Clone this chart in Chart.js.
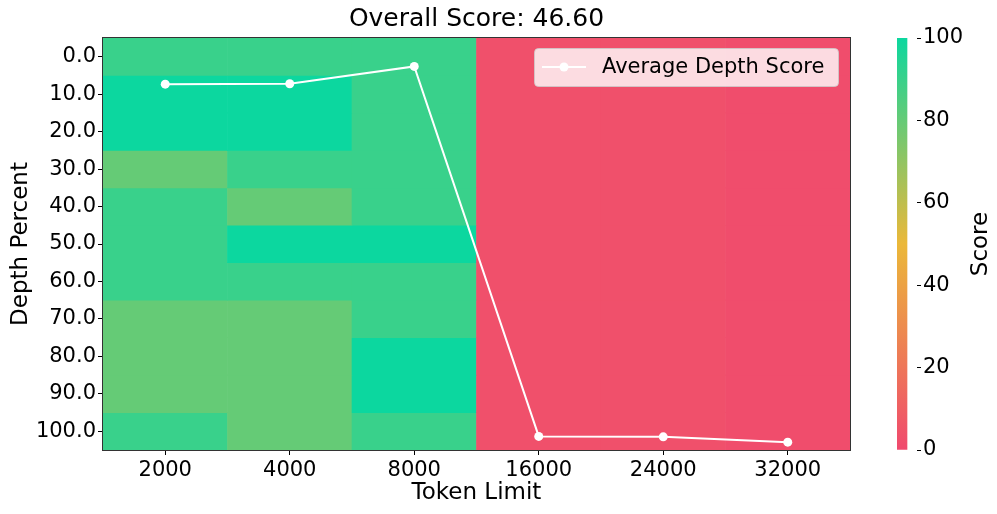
<!DOCTYPE html>
<html><head><meta charset="utf-8">
<script src="https://cdn.jsdelivr.net/npm/chart.js@4.4.1/dist/chart.umd.min.js"></script>
<style>
html,body{margin:0;padding:0;background:#fff;}
#wrap{position:relative;width:997px;height:514px;overflow:hidden;}
#main{position:absolute;left:0;top:0;}
#cbar{position:absolute;left:880px;top:0;}
</style></head><body>
<div id="wrap">
<canvas id="main" width="997" height="514"></canvas>
<canvas id="cbar" width="117" height="514"></canvas>
</div>
<script>
// ---------------- data ----------------
const tokenLimits = ['2000', '4000', '8000', '16000', '24000', '32000'];
const depthPercents = [0, 10, 20, 30, 40, 50, 60, 70, 80, 90, 100];
// score of each cell, one array per token limit, rows ordered by depth percent
const score2000  = [90, 100, 100, 80, 90, 90, 90, 80, 80, 80, 90];
const score4000  = [90, 100, 100, 90, 80, 100, 90, 80, 80, 80, 80];
const score8000  = [90, 90, 90, 90, 90, 100, 90, 90, 100, 100, 90];
const score16000 = [3.3, 3.3, 3.3, 3.3, 3.3, 3.3, 3.3, 3.3, 3.3, 3.3, 3.3];
const score24000 = [3.2, 3.2, 3.2, 3.2, 3.2, 3.2, 3.2, 3.2, 3.2, 3.2, 3.2];
const score32000 = [1.9, 1.9, 1.9, 1.9, 1.9, 1.9, 1.9, 1.9, 1.9, 1.9, 1.9];
const averageDepthScore = [88.8, 88.9, 93.1, 3.3, 3.2, 1.9];
const overallScore = 46.60;
const colorStops = ['#F0496E', '#EBB839', '#0CD79F'];
const scoreTicks = [0, 20, 40, 60, 80, 100];

const scoreColumns = [score2000, score4000, score8000, score16000, score24000, score32000];
const FONT = '"DejaVu Sans", "Liberation Sans", sans-serif';

function hexToRgb(h){ const n=parseInt(h.slice(1),16); return [(n>>16)&255,(n>>8)&255,n&255]; }
function scoreColor(s){
  const t = Math.max(0, Math.min(1, s/100)) * (colorStops.length-1);
  const i = Math.min(colorStops.length-2, Math.floor(t));
  const f = t - i;
  const a = hexToRgb(colorStops[i]), b = hexToRgb(colorStops[i+1]);
  const c = a.map((v,k)=>Math.round(v + (b[k]-v)*f));
  return `rgb(${c[0]},${c[1]},${c[2]})`;
}
const step = depthPercents[1]-depthPercents[0];
const half = step/2;

// ---------------- heatmap datasets ----------------
const cellDatasets = depthPercents.map((d, r) => ({
  type: 'bar',
  label: 'depth ' + d,
  data: tokenLimits.map(() => [d - half, d + half]),
  backgroundColor: scoreColumns.map(col => scoreColor(col[r])),
  borderWidth: 0,
  barPercentage: 1,
  categoryPercentage: 1,
  grouped: false,
  xAxisID: 'x',
  yAxisID: 'y',
  order: 2
}));

const lineDataset = {
  type: 'line',
  label: 'Average Depth Score',
  data: averageDepthScore,
  borderColor: '#ffffff',
  backgroundColor: '#ffffff',
  borderWidth: 2,
  pointRadius: 4.5,
  pointBorderWidth: 0,
  pointBackgroundColor: '#ffffff',
  xAxisID: 'x',
  yAxisID: 'yScore',
  order: 0
};

const frameAndLegend = {
  id: 'frameAndLegend',
  afterDraw(chart){
    const {ctx, chartArea:a} = chart;
    ctx.save();
    // frame
    ctx.strokeStyle = '#333333';
    ctx.lineWidth = 1;
    ctx.strokeRect(Math.round(a.left)-0.5, Math.round(a.top)-0.5, Math.round(a.right-a.left)+1, Math.round(a.bottom-a.top)+1);
    // legend
    const bw = 304, bh = 38;
    const bx = a.right - 12 - bw, by = a.top + 10;
    ctx.beginPath();
    ctx.roundRect(bx+0.5, by+0.5, bw, bh, 4);
    ctx.fillStyle = 'rgba(255,255,255,0.8)';
    ctx.fill();
    ctx.strokeStyle = 'rgba(204,204,204,0.8)';
    ctx.stroke();
    const ly = by + bh/2;
    ctx.strokeStyle = '#ffffff';
    ctx.lineWidth = 2;
    ctx.beginPath(); ctx.moveTo(bx+8, ly); ctx.lineTo(bx+52, ly); ctx.stroke();
    ctx.fillStyle = '#ffffff';
    ctx.beginPath(); ctx.arc(bx+30, ly, 4.5, 0, Math.PI*2); ctx.fill();
    ctx.fillStyle = '#000000';
    ctx.font = '21px ' + FONT;
    ctx.textBaseline = 'middle';
    ctx.textAlign = 'left';
    ctx.fillText(lineDataset.label, bx+68, ly+1);
    ctx.restore();
  }
};

new Chart(document.getElementById('main'), {
  data: { labels: tokenLimits, datasets: [lineDataset, ...cellDatasets] },
  options: {
    responsive: false,
    animation: false,
    layout: { padding: { left: 0, right: 147, top: 0, bottom: 0 } },
    plugins: {
      legend: { display: false },
      tooltip: { enabled: false },
      title: {
        display: true,
        fullSize: false,
        text: 'Overall Score: ' + overallScore.toFixed(2),
        color: '#000',
        font: { family: FONT, size: 25, weight: 'normal', lineHeight: 1.2 },
        padding: { top: 4, bottom: 4 }
      }
    },
    scales: {
      x: {
        type: 'category',
        offset: true,
        grid: { drawOnChartArea: false, drawTicks: true, tickLength: 5, color: '#000', offset: false },
        border: { display: false },
        ticks: { color: '#000', font: { family: FONT, size: 21 }, padding: 3, maxRotation: 0 },
        title: { display: true, text: 'Token Limit', color: '#000', font: { family: FONT, size: 23 }, padding: { top: 0, bottom: 7 } },
        afterFit(s){ s.height = 64; }
      },
      xg: {
        type: 'category',
        position: 'bottom',
        offset: true,
        z: 1,
        grid: { offset: true, drawTicks: false, color: 'rgba(255,255,255,0.1)', lineWidth: 1 },
        border: { display: false },
        ticks: { display: false },
        afterFit(s){ s.height = 0; }
      },
      y: {
        type: 'linear',
        position: 'left',
        reverse: true,
        min: depthPercents[0] - half,
        max: depthPercents[depthPercents.length-1] + half,
        afterBuildTicks(s){ s.ticks = depthPercents.map(v => ({ value: v })); },
        grid: { drawOnChartArea: false, drawTicks: true, tickLength: 5, color: '#000' },
        border: { display: false },
        ticks: { color: '#000', font: { family: FONT, size: 21 }, padding: 2, callback: v => Number(v).toFixed(1) },
        title: { display: true, text: 'Depth Percent', color: '#000', font: { family: FONT, size: 23 }, padding: { top: 7, bottom: 0 } },
        afterFit(s){ s.width = 103; }
      },
      yg: {
        type: 'linear',
        position: 'right',
        reverse: true,
        z: 1,
        min: depthPercents[0] - half,
        max: depthPercents[depthPercents.length-1] + half,
        afterBuildTicks(s){ s.ticks = depthPercents.slice(1).map(v => ({ value: v - half })); },
        grid: { drawTicks: false, color: 'rgba(255,255,255,0.1)', lineWidth: 1 },
        border: { display: false },
        ticks: { display: false },
        afterFit(s){ s.width = 0; }
      },
      yScore: {
        type: 'linear',
        display: false,
        min: 0,
        max: 100
      }
    }
  },
  plugins: [frameAndLegend]
});

// ---------------- colour bar ----------------
const colorbarTitle = {
  id: 'colorbarTitle',
  afterDraw(chart){
    const {ctx, chartArea:a} = chart;
    ctx.save();
    ctx.translate(101, (a.top + a.bottom)/2);
    ctx.rotate(-Math.PI/2);
    ctx.fillStyle = '#000';
    ctx.font = '23px ' + FONT;
    ctx.textAlign = 'center';
    ctx.textBaseline = 'middle';
    ctx.fillText('Score', 0, 0);
    ctx.restore();
  }
};
new Chart(document.getElementById('cbar'), {
  type: 'bar',
  data: {
    labels: ['Score'],
    datasets: [{
      data: [[scoreTicks[0], scoreTicks[scoreTicks.length-1]]],
      backgroundColor(c){
        const a = c.chart.chartArea;
        if (!a) return colorStops[0];
        const g = c.chart.ctx.createLinearGradient(0, a.bottom, 0, a.top);
        colorStops.forEach((col, i) => g.addColorStop(i/(colorStops.length-1), col));
        return g;
      },
      borderWidth: 0,
      barPercentage: 1,
      categoryPercentage: 1
    }]
  },
  options: {
    responsive: false,
    animation: false,
    layout: { padding: { left: 17, right: 0, top: 38, bottom: 64 } },
    plugins: { legend: { display: false }, tooltip: { enabled: false }, title: { display: false } },
    scales: {
      x: { display: false, offset: false },
      y: {
        position: 'right',
        min: scoreTicks[0],
        max: scoreTicks[scoreTicks.length-1],
        afterBuildTicks(s){ s.ticks = scoreTicks.map(v => ({ value: v })); },
        grid: { drawOnChartArea: false, drawTicks: true, tickLength: 4, color: '#000' },
        border: { display: false },
        ticks: { color: '#000', font: { family: FONT, size: 21 }, padding: 2 },
        afterFit(s){ s.width = 80; }
      }
    }
  },
  plugins: [colorbarTitle]
});
</script>
</body></html>
